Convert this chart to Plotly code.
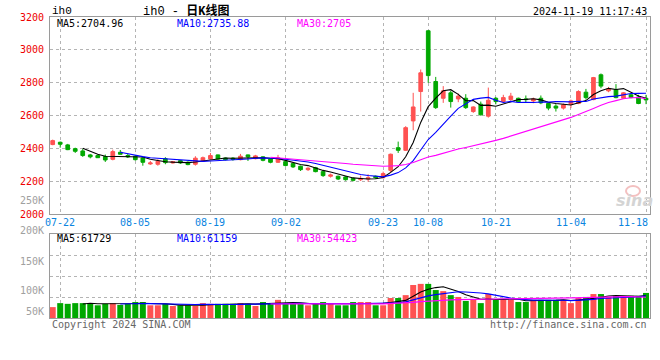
import plotly.graph_objects as go
import pandas as pd

# ---------------- data ----------------
dates = (
    ["07-19", "07-22", "07-23", "07-24", "07-25", "07-26", "07-29", "07-30", "07-31"]
    + ["08-01", "08-02", "08-05", "08-06", "08-07", "08-08", "08-09", "08-12", "08-13",
       "08-14", "08-15", "08-16", "08-19", "08-20", "08-21", "08-22", "08-23", "08-26",
       "08-27", "08-28", "08-29", "08-30"]
    + ["09-02", "09-03", "09-04", "09-05", "09-06", "09-09", "09-10", "09-11", "09-12",
       "09-13", "09-18", "09-19", "09-20", "09-23", "09-24", "09-25", "09-26", "09-27",
       "09-30"]
    + ["10-08", "10-09", "10-10", "10-11", "10-14", "10-15", "10-16", "10-17", "10-18",
       "10-21", "10-22", "10-23", "10-24", "10-25", "10-28", "10-29", "10-30", "10-31"]
    + ["11-01", "11-04", "11-05", "11-06", "11-07", "11-08", "11-11", "11-12", "11-13",
       "11-14", "11-15", "11-18"]
)

opens = [2423, 2437, 2421, 2398, 2384, 2360, 2356, 2350, 2333, 2376,
         2356, 2352, 2341, 2305, 2303, 2337, 2311, 2325, 2315, 2303,
         2323, 2335, 2360, 2341, 2340, 2331, 2360, 2337, 2348, 2335,
         2315, 2319, 2307, 2291, 2270, 2282, 2258, 2230, 2230, 2226,
         2217, 2209, 2213, 2230, 2221, 2266, 2404, 2388, 2567, 2746,
         3116, 2807, 2705, 2738, 2701, 2705, 2624, 2669, 2596, 2705,
         2685, 2697, 2705, 2701, 2689, 2705, 2673, 2657, 2645, 2669,
         2673, 2742, 2697, 2848, 2750, 2758, 2705, 2726, 2713, 2705]
highs = [2453, 2441, 2427, 2404, 2396, 2366, 2362, 2362, 2392, 2390,
         2368, 2356, 2346, 2323, 2333, 2346, 2323, 2329, 2321, 2352,
         2350, 2372, 2362, 2343, 2346, 2366, 2362, 2360, 2352, 2337,
         2360, 2325, 2311, 2295, 2285, 2287, 2266, 2246, 2234, 2230,
         2222, 2234, 2242, 2234, 2258, 2368, 2441, 2535, 2738, 2880,
         3120, 2835, 2779, 2750, 2734, 2730, 2656, 2685, 2770, 2713,
         2726, 2738, 2709, 2722, 2709, 2722, 2677, 2669, 2673, 2697,
         2754, 2762, 2835, 2856, 2774, 2791, 2742, 2730, 2726, 2726]
lows = [2419, 2404, 2389, 2372, 2348, 2339, 2341, 2317, 2327, 2362,
        2341, 2325, 2294, 2299, 2294, 2303, 2307, 2305, 2297, 2295,
        2319, 2331, 2333, 2327, 2325, 2327, 2323, 2333, 2321, 2309,
        2311, 2290, 2280, 2262, 2262, 2254, 2226, 2222, 2207, 2203,
        2199, 2201, 2197, 2215, 2217, 2254, 2372, 2384, 2510, 2624,
        2799, 2640, 2677, 2648, 2681, 2640, 2616, 2600, 2587, 2668,
        2677, 2689, 2681, 2677, 2675, 2669, 2632, 2624, 2636, 2645,
        2669, 2697, 2693, 2766, 2742, 2705, 2701, 2705, 2669, 2669]
closes = [2447, 2425, 2392, 2382, 2356, 2348, 2343, 2329, 2380, 2364,
          2348, 2331, 2315, 2311, 2321, 2313, 2319, 2311, 2301, 2340,
          2343, 2356, 2335, 2331, 2333, 2352, 2348, 2354, 2327, 2315,
          2343, 2295, 2287, 2270, 2279, 2258, 2234, 2238, 2213, 2209,
          2205, 2217, 2221, 2221, 2246, 2364, 2388, 2526, 2652, 2860,
          2843, 2648, 2750, 2685, 2718, 2648, 2652, 2604, 2693, 2685,
          2709, 2718, 2683, 2697, 2701, 2677, 2645, 2645, 2665, 2689,
          2746, 2709, 2831, 2779, 2762, 2709, 2738, 2709, 2673, 2695]
volumes = [30000, 41000, 39000, 41000, 41000, 41000, 35000, 39000, 41000, 36000,
           39000, 44000, 44000, 35000, 35000, 39000, 33000, 35000, 35000, 33000,
           41000, 39000, 39000, 39000, 39000, 41000, 39000, 33000, 44000, 41000,
           50000, 39000, 39000, 39000, 35000, 41000, 44000, 40000, 35000, 35000,
           44000, 44000, 44000, 35000, 35000, 55000, 55000, 63000, 91000, 94000,
           94000, 77000, 74000, 63000, 58000, 47000, 50000, 41000, 66000, 50000,
           50000, 50000, 44000, 44000, 50000, 50000, 50000, 50000, 50000, 41000,
           55000, 58000, 66000, 66000, 58000, 61000, 58000, 61000, 61000, 69000]

x_tick_dates = ["07-22", "08-05", "08-19", "09-02", "09-23", "10-08", "10-21", "11-04", "11-18"]
price_ticks = [2000, 2200, 2400, 2600, 2800, 3000, 3200]
vol_tick_labels = ["250K", "200K", "150K", "100K", "50K"]
vol_tick_pos = [325000, 240000, 157000, 77000, 19000]
ma_windows = [5, 10, 30]
ma_colors = ["#000000", "#0000ff", "#ff00ff"]
price_ma_labels = ["MA5:2704.96", "MA10:2735.88", "MA30:2705"]
vol_ma_labels = ["MA5:61729", "MA10:61159", "MA30:54423"]
symbol = "ih0"
title_text = "ih0 - <b>日K线图</b>"
timestamp = "2024-11-19 11:17:43"
copyright_text = "Copyright 2024 SINA.COM"
url_text = "http://finance.sina.com.cn"

# ---------------- styling ----------------
RED = "#ff5252"
GREEN = "#00a800"
GRID = "#b4b4b4"
BORDER = "#9a9a9a"
XLAB = "#0a84e0"
MONO = "DejaVu Sans Mono"
W, H = 660, 360
L, R, T, B = 50, 650, 17, 318  # plot area in pixels


def px(x, y):
    return (x - L) / (R - L), (B - y) / (B - T)


main_dom = [(B - 214) / (B - T), 1.0]
vol_dom = [0.0, (B - 234) / (B - T)]
vol_top = 231400

fig = go.Figure()

fig.add_trace(go.Candlestick(
    x=dates, open=opens, high=highs, low=lows, close=closes,
    increasing=dict(line=dict(color=RED, width=1), fillcolor=RED),
    decreasing=dict(line=dict(color=GREEN, width=1), fillcolor=GREEN),
    whiskerwidth=0, xaxis="x", yaxis="y", hoverinfo="skip"))

cs = pd.Series(closes, dtype=float)
vs = pd.Series(volumes, dtype=float)
for win, col in zip(ma_windows, ma_colors):
    ma = cs.rolling(win).mean()
    fig.add_trace(go.Scatter(x=dates, y=[None if pd.isna(v) else v for v in ma],
                             mode="lines", line=dict(color=col, width=1.1),
                             xaxis="x", yaxis="y", hoverinfo="skip"))

bar_colors = [RED if c >= o else GREEN for o, c in zip(opens, closes)]
fig.add_trace(go.Bar(x=dates, y=volumes, marker=dict(color=bar_colors, line=dict(width=0)),
                     xaxis="x2", yaxis="y2", hoverinfo="skip"))
for win, col in zip(ma_windows, ma_colors):
    ma = vs.rolling(win).mean()
    fig.add_trace(go.Scatter(x=dates, y=[None if pd.isna(v) else v for v in ma],
                             mode="lines", line=dict(color=col, width=1.1),
                             xaxis="x2", yaxis="y2", hoverinfo="skip"))

x_common = dict(type="category", range=[-0.36, 79.53], tickvals=x_tick_dates,
                showticklabels=False, showgrid=True, gridcolor=GRID, griddash="dot",
                gridwidth=1, showline=True, mirror=True, linecolor=BORDER, linewidth=1,
                ticks="", zeroline=False, fixedrange=True)

fig.update_layout(
    width=W, height=H,
    margin=dict(l=L, r=W - R, t=T, b=H - B, pad=0),
    paper_bgcolor="white", plot_bgcolor="white",
    showlegend=False, bargap=0.2,
    xaxis=dict(**x_common, anchor="y", rangeslider=dict(visible=False)),
    xaxis2=dict(**x_common, anchor="y2"),
    yaxis=dict(domain=main_dom, range=[2000, 3200], tickvals=price_ticks,
               ticktext=[str(v) for v in price_ticks],
               tickfont=dict(family=MONO, size=10, color="#ee0000"),
               showgrid=True, gridcolor=GRID, griddash="dot", gridwidth=1,
               showline=True, mirror=True, linecolor=BORDER, linewidth=1,
               ticks="", zeroline=False, ticklabelstandoff=3, fixedrange=True),
    yaxis2=dict(domain=vol_dom, range=[0, vol_top], tick0=0, dtick=vol_top / 4,
                showticklabels=False, showgrid=True, gridcolor=GRID, griddash="dot",
                gridwidth=1, showline=True, mirror=True, linecolor=BORDER, linewidth=1,
                ticks="", zeroline=False, fixedrange=True),
)

ann = []


def text(x, y, s, color="#000000", size=10, anchor="left", family=MONO, **kw):
    xp, yp = px(x, y)
    ann.append(dict(x=xp, y=yp, xref="paper", yref="paper", text=s, showarrow=False,
                    xanchor=anchor, yanchor="middle",
                    font=dict(family=family, size=size, color=color, **kw)))


text(50, 11.5, symbol, size=11, family="Liberation Mono")
text(186, 11, title_text, size=12, anchor="center", family="Liberation Mono, Noto Sans CJK SC")
text(649, 11.5, timestamp, size=10, anchor="right")
for xx, s, col in zip([55, 175, 295], price_ma_labels, ma_colors):
    text(xx, 23.5, s, color=col)
for xx, s, col in zip([55, 175, 295], vol_ma_labels, ma_colors):
    text(xx, 238.5, s, color=col)
text(50, 324, copyright_text, color="#666666")
text(649, 324, url_text, color="#666666", anchor="right")

# date labels under the price panel (last one kept inside the frame, as Sina does)
_, ylab = px(0, 222)
for i, d in enumerate(x_tick_dates):
    if i == len(x_tick_dates) - 1:
        ann.append(dict(x=1.0, y=ylab, xref="paper", yref="paper", text=d, showarrow=False,
                        xanchor="right", yanchor="middle",
                        font=dict(family=MONO, size=10, color=XLAB)))
    else:
        ann.append(dict(x=d, y=ylab, xref="x", yref="paper", text=d, showarrow=False,
                        xanchor="center", yanchor="middle",
                        font=dict(family=MONO, size=10, color=XLAB)))

# volume axis labels (placed on the volume scale, converted to paper units)
for lab, v in zip(vol_tick_labels, vol_tick_pos):
    yp = vol_dom[0] + v / vol_top * (vol_dom[1] - vol_dom[0])
    ann.append(dict(x=-4 / (R - L), y=yp, xref="paper", yref="paper", text=lab,
                    showarrow=False, xanchor="right", yanchor="middle",
                    font=dict(family=MONO, size=10, color="#a0a0a0")))

# sina watermark
text(634, 200, "sina", color="#d4d4d4", size=16, anchor="center",
     family="DejaVu Sans", weight="bold", style="italic")
x0, y0 = px(626, 196)
x1, y1 = px(640, 186)
fig.add_shape(type="circle", xref="paper", yref="paper", x0=x0, y0=y0, x1=x1, y1=y1,
              line=dict(color="#f3c0c0", width=2))

fig.update_layout(annotations=ann)
fig.write_html("out.html", config={"displayModeBar": False, "staticPlot": True},
               post_script="document.body.style.margin='0px';document.body.style.overflow='hidden';")
